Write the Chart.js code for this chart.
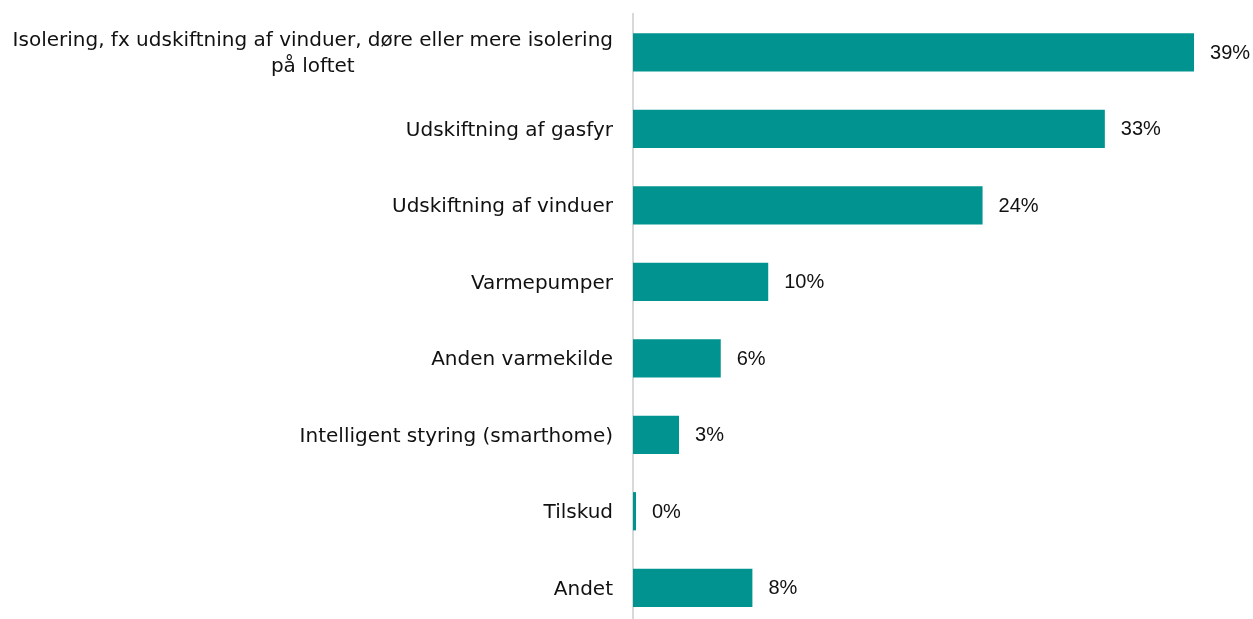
<!DOCTYPE html>
<html>
<head>
<meta charset="utf-8">
<script src="https://cdn.jsdelivr.net/npm/chart.js@4"></script>
<style>
  html, body { margin: 0; padding: 0; overflow: hidden; background: #fff; }
  #wrap { width: 1253px; height: 640px; }
</style>
</head>
<body>
<div id="wrap"><canvas id="chart"></canvas></div>
<script>
// ----- DATA -----
const categories = [
  ['Isolering, fx udskiftning af vinduer, døre eller mere isolering', 'på loftet'],
  'Udskiftning af gasfyr',
  'Udskiftning af vinduer',
  'Varmepumper',
  'Anden varmekilde',
  'Intelligent styring (smarthome)',
  'Tilskud',
  'Andet'
];
const shares = [39, 32.8, 24.3, 9.4, 6.1, 3.2, 0.2, 8.3];
const shareLabels = ['39%', '33%', '24%', '10%', '6%', '3%', '0%', '8%'];

const barColor = '#00938f';
const textColor = '#111111';
const catFont = '20px "DejaVu Sans", sans-serif';
const valueFont = '20px "Liberation Sans", Arial, sans-serif';

// draws category names left of axis and the value labels right of bars
const labelPlugin = {
  id: 'labelPlugin',
  afterDatasetsDraw(chart) {
    const ctx = chart.ctx;
    const yScale = chart.scales.y;
    const meta = chart.getDatasetMeta(0);
    ctx.save();
    ctx.fillStyle = textColor;
    ctx.font = catFont;
    ctx.textBaseline = 'middle';

    categories.forEach((cat, i) => {
      const y = yScale.getPixelForValue(i) + 2;
      const rightX = chart.chartArea.left - 20;
      if (Array.isArray(cat)) {
        const widest = Math.max(...cat.map(t => ctx.measureText(t).width));
        const cx = rightX - widest / 2;
        const lh = 26;
        ctx.textAlign = 'center';
        cat.forEach((t, j) => {
          ctx.fillText(t, cx, y + (j - (cat.length - 1) / 2) * lh);
        });
      } else {
        ctx.textAlign = 'right';
        ctx.fillText(cat, rightX, y);
      }
    });

    ctx.font = valueFont;
    ctx.textAlign = 'left';
    meta.data.forEach((bar, i) => {
      ctx.fillText(shareLabels[i], bar.x + 16, bar.y + 1);
    });
    ctx.restore();
  }
};

new Chart(document.getElementById('chart').getContext('2d'), {
  type: 'bar',
  data: {
    labels: categories,
    datasets: [{
      data: shares,
      backgroundColor: barColor,
      barPercentage: 0.5,
      categoryPercentage: 1,
      minBarLength: 3
    }]
  },
  options: {
    indexAxis: 'y',
    responsive: true,
    maintainAspectRatio: false,
    animation: false,
    layout: { padding: { top: 14, bottom: 14, right: 0, left: 0 } },
    scales: {
      x: {
        display: false,
        min: 0,
        max: 43.1
      },
      y: {
        ticks: { display: false },
        grid: { display: false, drawTicks: false },
        border: { display: true, color: '#d9d9d9', width: 2 },
        afterFit(scale) { scale.width = 633; }
      }
    },
    plugins: {
      legend: { display: false },
      tooltip: { enabled: false }
    }
  },
  plugins: [labelPlugin]
});
</script>
</body>
</html>
